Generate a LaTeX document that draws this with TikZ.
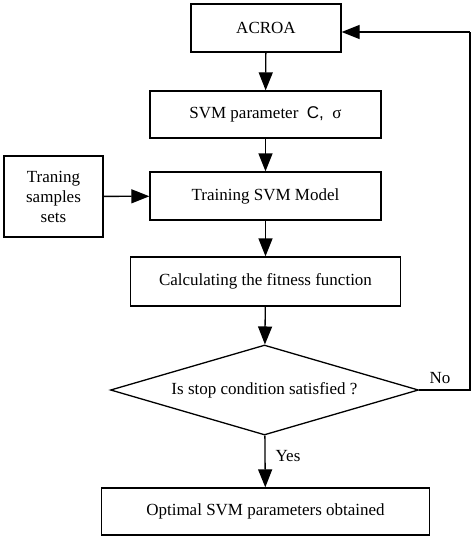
\documentclass[tikz,border=0pt]{standalone}
\usepackage{fontspec}
\setmainfont{Liberation Serif}
\newfontfamily\arialfont{Liberation Sans}
\usetikzlibrary{shapes.geometric,arrows.meta}
\begin{document}
\begin{tikzpicture}[x=1pt,y=-1pt,
  every node/.style={font=\fontsize{17}{20}\selectfont},
  box/.style={draw,line width=1.3pt,rectangle,inner sep=0pt,align=center},
  dia/.style={draw,line width=1.3pt,diamond,aspect=3.42,inner sep=0pt,minimum width=308pt,minimum height=90pt},
  arr/.style={line width=1.3pt,-{Triangle[length=18pt,width=14pt]}},
  lbl/.style={inner sep=0pt}]
\useasboundingbox (0,0) rectangle (474,539);
\node[box,minimum width=150pt,minimum height=48pt] (acroa) at (266,28) {ACROA};
\node[box,minimum width=231pt,minimum height=47pt] (param) at (265.5,114.5) {SVM parameter~~{\arialfont C,}~~σ};
\node[box,minimum width=231pt,minimum height=48pt] (train) at (265.5,196) {Training SVM Model};
\node[box,minimum width=99pt,minimum height=81pt] (samples) at (53.5,196.5) {Traning\\samples\\sets};
\node[box,minimum width=270pt,minimum height=49pt] (fit) at (265.5,281.5) {Calculating the fitness function};
\node[dia] (stop) at (264.5,390) {Is stop condition satisfied ?};
\node[box,minimum width=328pt,minimum height=47pt] (opt) at (265.5,511.5) {Optimal SVM parameters obtained};
\coordinate (c1) at (470,390);
\coordinate (c2) at (470,32);
\draw[arr] (acroa) -- (param);
\draw[arr] (param) -- (train);
\draw[arr] (samples) -- (train);
\draw[arr] (train) -- (fit);
\draw[arr] (fit) -- (stop);
\draw[arr] (stop) -- (opt);
\node[lbl] (yes) at (288,456) {Yes};
\draw[line width=1.3pt] (stop.east) -- (c1) -- (c2);
\draw[arr] (c2) -- (acroa.east |- c2);
\node[lbl] (no) at (440,378) {No};
\end{tikzpicture}
\end{document}
